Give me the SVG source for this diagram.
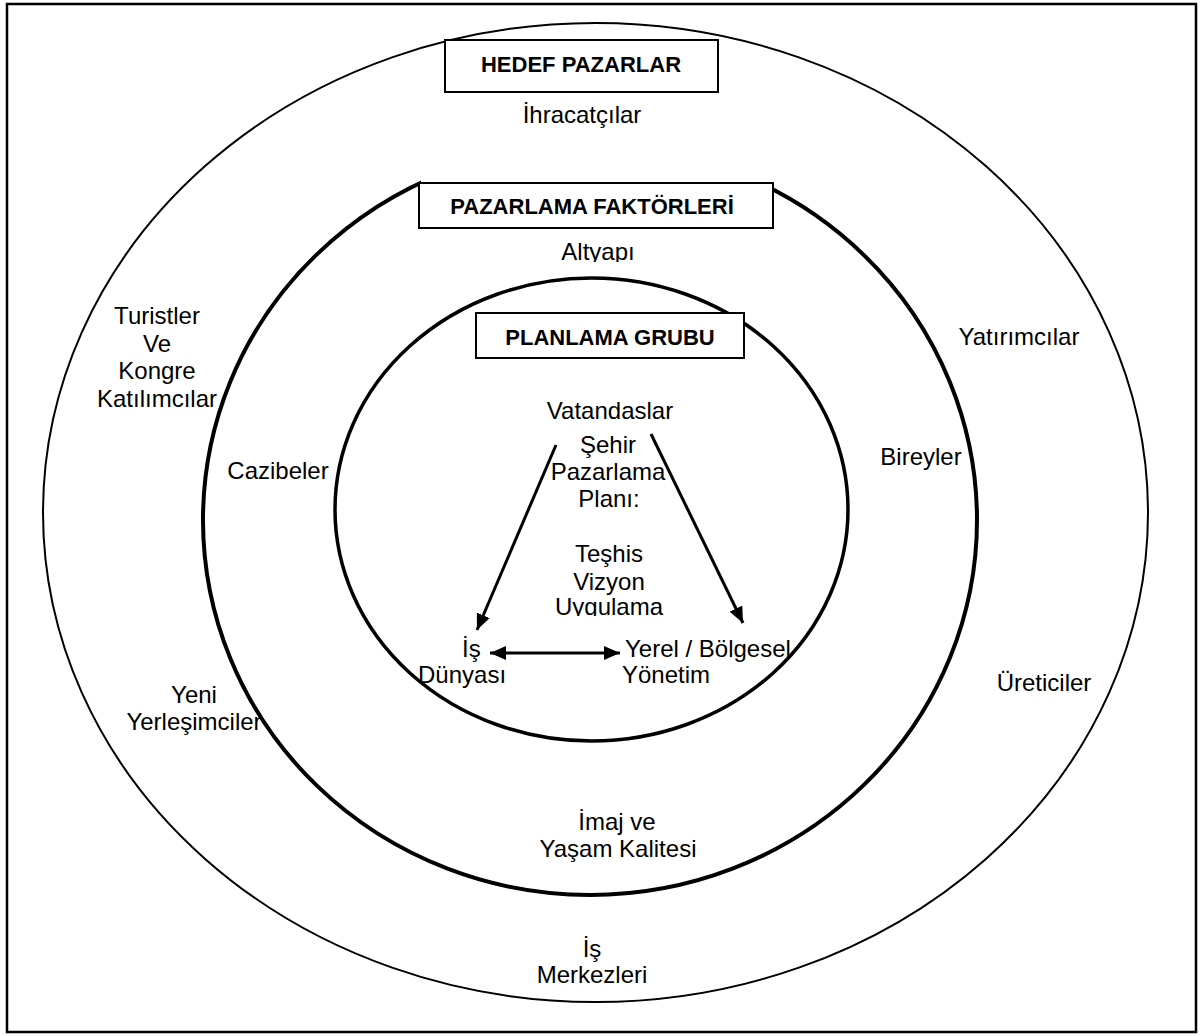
<svg xmlns="http://www.w3.org/2000/svg" width="1200" height="1036" viewBox="0 0 1200 1036">
<defs>
<style>
.t{font-family:"Liberation Sans",Arial,sans-serif;font-size:24px;fill:#000;text-anchor:middle}
.s{text-anchor:start}
.b{font-family:"Liberation Sans",Arial,sans-serif;font-size:22px;font-weight:bold;fill:#000;text-anchor:middle}
.box{fill:#fff;stroke:#000;stroke-width:2}
.ring{fill:none;stroke:#000}
.arr{stroke:#000;stroke-width:3;fill:none}
</style>
<marker id="ah" markerUnits="userSpaceOnUse" markerWidth="16" markerHeight="14" refX="16" refY="7" orient="auto-start-reverse">
<path d="M0,0 L16,7 L0,14 z" fill="#000"/>
</marker>
<clipPath id="c1"><rect x="500" y="230" width="200" height="32"/></clipPath>
<clipPath id="c2"><rect x="500" y="590" width="200" height="26"/></clipPath>
</defs>
<rect width="1200" height="1036" fill="#fff"/>
<rect x="7" y="4" width="1189" height="1028" fill="none" stroke="#000" stroke-width="2.5"/>

<g id="rings">
<ellipse class="ring" cx="595.5" cy="512.5" rx="552.5" ry="489.5" stroke-width="2"/>
<ellipse class="ring" cx="590" cy="520" rx="387" ry="375" stroke-width="4"/>
<ellipse class="ring" cx="591.5" cy="509.5" rx="256.5" ry="231.5" stroke-width="3.5"/>
</g>

<g id="hedef-pazarlar">
<rect class="box" x="445" y="40" width="273" height="52"/>
<text class="b" x="581" y="72">HEDEF PAZARLAR</text>
</g>
<g id="pazarlama-faktorleri">
<rect x="421" y="135" width="350" height="49" fill="#fff"/>
<rect class="box" x="419" y="183" width="354" height="45"/>
<text class="b" x="592" y="214">PAZARLAMA FAKTÖRLERİ</text>
</g>
<g id="planlama-grubu">
<rect class="box" x="476" y="313" width="268" height="45"/>
<text class="b" x="610" y="345">PLANLAMA GRUBU</text>
</g>

<g id="outer-labels">
<text class="t" x="582" y="123">İhracatçılar</text>
<text class="t" x="157" y="324">Turistler</text>
<text class="t" x="157" y="352">Ve</text>
<text class="t" x="157" y="379">Kongre</text>
<text class="t" x="157" y="407">Katılımcılar</text>
<text class="t" x="1019" y="345">Yatırımcılar</text>
<text class="t" x="194" y="703">Yeni</text>
<text class="t" x="194" y="730">Yerleşimciler</text>
<text class="t" x="1044" y="691">Üreticiler</text>
<text class="t" x="592" y="957">İş</text>
<text class="t" x="592" y="983">Merkezleri</text>
</g>

<g id="middle-labels">
<text class="t" x="598" y="260" clip-path="url(#c1)">Altyapı</text>
<text class="t" x="278" y="479">Cazibeler</text>
<text class="t" x="921" y="465">Bireyler</text>
<text class="t" x="617" y="830">İmaj ve</text>
<text class="t" x="618" y="857">Yaşam Kalitesi</text>
</g>

<g id="inner-labels">
<text class="t" x="610" y="419">Vatandaslar</text>
<text class="t" x="608" y="453">Şehir</text>
<text class="t" x="608" y="480">Pazarlama</text>
<text class="t" x="609" y="507">Planı:</text>
<text class="t" x="609" y="562">Teşhis</text>
<text class="t" x="609" y="590">Vizyon</text>
<text class="t" x="609" y="615" clip-path="url(#c2)">Uygulama</text>
<text class="t s" x="462" y="657">İş</text>
<text class="t s" x="418" y="683">Dünyası</text>
<text class="t s" x="625" y="657">Yerel / Bölgesel</text>
<text class="t s" x="622" y="683">Yönetim</text>
</g>

<g id="connectors">
<line class="arr" x1="556" y1="445" x2="477" y2="630" marker-end="url(#ah)"/>
<line class="arr" x1="651" y1="434" x2="743" y2="623" marker-end="url(#ah)"/>
<line class="arr" x1="490" y1="653" x2="620" y2="653" marker-start="url(#ah)" marker-end="url(#ah)"/>
</g>
</svg>
